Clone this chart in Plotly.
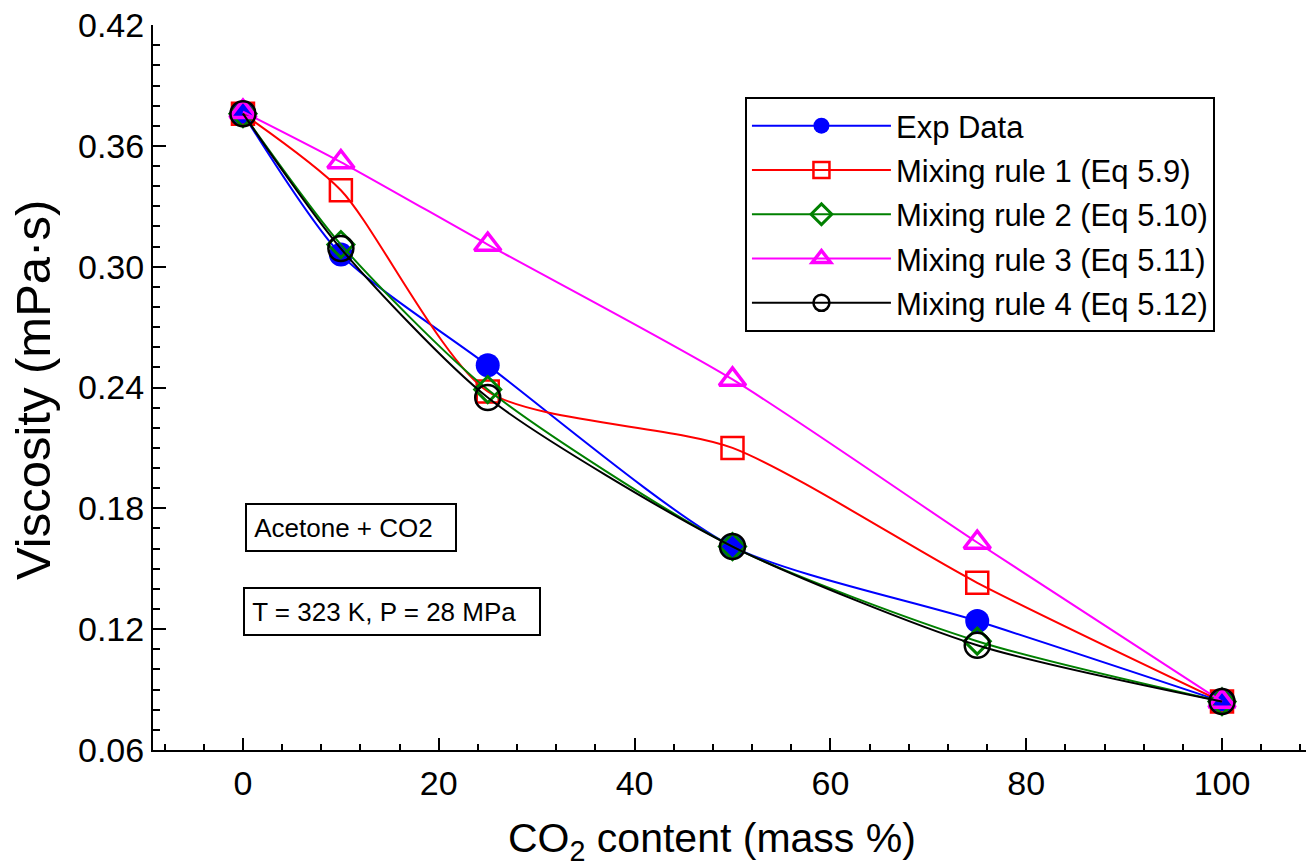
import plotly.graph_objects as go

# CO2 mass fraction in the acetone + CO2 mixture (%)
co2_content = [0, 10, 25, 50, 75, 100]

# Viscosity (mPa·s) at T = 323 K, P = 28 MPa
exp_data = [0.376, 0.306, 0.251, 0.161, 0.124, 0.084]
rule_1 = [0.376, 0.338, 0.238, 0.210, 0.143, 0.084]
rule_2 = [0.376, 0.311, 0.239, 0.161, 0.114, 0.084]
rule_3 = [0.377, 0.352, 0.311, 0.244, 0.163, 0.084]
rule_4 = [0.376, 0.309, 0.235, 0.161, 0.112, 0.084]

series_names = [
    "Exp Data",
    "Mixing rule 1 (Eq 5.9)",
    "Mixing rule 2 (Eq 5.10)",
    "Mixing rule 3 (Eq 5.11)",
    "Mixing rule 4 (Eq 5.12)",
]

FONT = "Liberation Sans, Arial, sans-serif"

styles = [
    dict(color="#0000ff", symbol="circle", size=24, lw=0),
    dict(color="#ff0000", symbol="square-open", size=22, lw=2.5),
    dict(color="#008000", symbol="diamond-open", size=20, lw=3),
    dict(color="#ff00ff", symbol="triangle-up-open", size=23, lw=3.5),
    dict(color="#000000", symbol="circle-open", size=25, lw=2.5),
]

fig = go.Figure()
for i, (name, vals, st) in enumerate(zip(series_names,
                                          [exp_data, rule_1, rule_2, rule_3, rule_4],
                                          styles)):
    fig.add_trace(go.Scatter(
        x=co2_content, y=vals, name=name, legendgroup=f"g{i}",
        mode="lines+markers",
        line=dict(color=st["color"], width=2, shape="spline", smoothing=0.7),
        marker=dict(symbol=st["symbol"], size=st["size"], color=st["color"],
                    line=dict(color=st["color"], width=st["lw"])),
    ))

axis_common = dict(showgrid=False, zeroline=False, linecolor="black",
                   linewidth=2, tickcolor="black", tickwidth=2)

fig.update_layout(
    width=1306, height=866,
    margin=dict(l=153, r=0, t=25, b=116),
    paper_bgcolor="white", plot_bgcolor="white",
    font=dict(family=FONT, color="black"),
    xaxis=dict(range=[-9.19, 108.58], tick0=0, dtick=20, ticks="inside",
               ticklen=12, showline=True, tickfont=dict(size=34),
               ticklabelstandoff=2,
               minor=dict(dtick=4, ticks="inside", ticklen=6, tickwidth=2,
                          tickcolor="black"),
               **axis_common),
    xaxis2=dict(overlaying="x", side="top", range=[-0.067, 34.92], tick0=0,
                dtick=5, ticks="inside", ticklen=11, showline=True,
                showticklabels=False,
                minor=dict(dtick=1, ticks="inside", ticklen=5, tickwidth=2,
                           tickcolor="black"),
                **axis_common),
    yaxis=dict(range=[0.05995, 0.42005], tick0=0.06, dtick=0.06,
               tickformat=".2f", ticks="inside", ticklen=13, showline=True,
               tickfont=dict(size=34), ticklabelstandoff=0,
               minor=dict(dtick=0.01, ticks="inside", ticklen=7, tickwidth=2,
                          tickcolor="black"),
               **axis_common),
    yaxis2=dict(overlaying="y", side="right", range=[0.05995, 0.42005],
                tick0=0.06, dtick=0.06, ticks="inside", ticklen=9,
                showline=False, showticklabels=False, showgrid=False,
                zeroline=False, tickcolor="black", tickwidth=2,
                minor=dict(dtick=0.01, ticks="inside", ticklen=2, tickwidth=2,
                           tickcolor="black")),
    legend=dict(x=0.5134, y=0.9007, xanchor="left", yanchor="top",
                bordercolor="black", borderwidth=2, bgcolor="white",
                font=dict(size=31, family=FONT), itemwidth=139,
                tracegroupgap=1),
    showlegend=True,
)

# axis titles (x title carries the CO2 subscript)
fig.add_annotation(text="CO<sub>2</sub> content (mass %)", xref="paper",
                   yref="paper", x=(712 - 153) / 1153, y=-0.125,
                   xanchor="center", yanchor="middle", showarrow=False,
                   font=dict(size=41, family=FONT))
fig.add_annotation(text="Viscosity (mPa·s)", xref="paper", yref="paper",
                   x=(33 - 153) / 1153, y=1 - (390 - 25) / 725,
                   xanchor="center", yanchor="middle", showarrow=False,
                   textangle=-90, font=dict(size=49, family=FONT))

# boxed labels describing the system and conditions
fig.add_annotation(text="&nbsp;Acetone + CO2", xref="paper", yref="paper",
                   x=(245 - 153) / 1153, y=1 - (503 - 25) / 725,
                   xanchor="left", yanchor="top", showarrow=False,
                   align="left", width=208, height=45, borderpad=0,
                   bordercolor="black", borderwidth=2, bgcolor="white",
                   font=dict(size=26, family=FONT))
fig.add_annotation(text="&nbsp;T = 323 K, P = 28 MPa", xref="paper",
                   yref="paper", x=(243 - 153) / 1153, y=1 - (587 - 25) / 725,
                   xanchor="left", yanchor="top", showarrow=False,
                   align="left", width=294, height=45, borderpad=0,
                   bordercolor="black", borderwidth=2, bgcolor="white",
                   font=dict(size=26, family=FONT))

fig.write_html("out.html")
